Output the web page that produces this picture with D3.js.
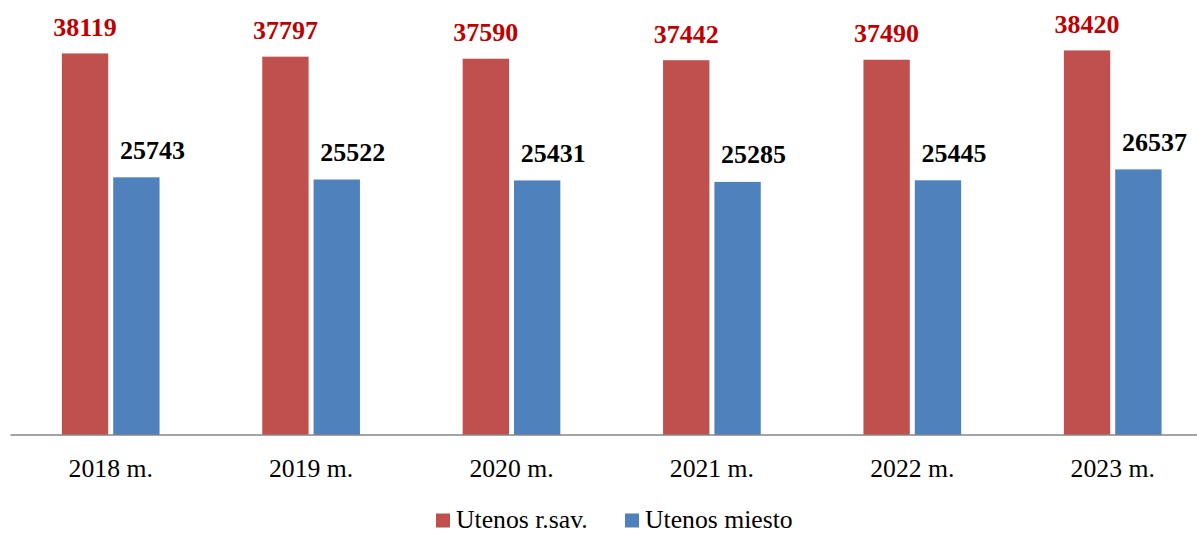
<!DOCTYPE html>
<html><head><meta charset="utf-8">
<script src="https://cdn.jsdelivr.net/npm/d3@7"></script>
<style>body{margin:0;background:#fff}svg{display:block}</style>
</head><body>
<svg id="c" width="1197" height="534"></svg>
<script>
const categories = ["2018 m.","2019 m.","2020 m.","2021 m.","2022 m.","2023 m."];
const seriesNames = ["Utenos r.sav.","Utenos miesto"];
const rajonas = [38119,37797,37590,37442,37490,38420];
const miestas = [25743,25522,25431,25285,25445,26537];
const colors = ["#C0504D","#4F81BD"];
const labelColors = ["#C00000","#000000"];
const seriesValues = [rajonas, miestas];

const svg = d3.select("#c");
const font = "'Liberation Serif','Times New Roman',serif";
const x0 = d3.scaleBand().domain(categories).range([10.5, 1212.9]).padding(0);
const x1 = d3.scaleBand().domain(seriesNames).range([0, x0.bandwidth()]).paddingInner(0.0975).paddingOuter(1.0);
const y = d3.scaleLinear().domain([0, 40000]).range([435, 34.6]);

const groups = svg.selectAll("g.cat").data(categories).join("g")
  .attr("transform", d => `translate(${x0(d)},0)`);

seriesNames.forEach((s, si) => {
  groups.append("rect")
    .attr("x", x1(s))
    .attr("width", x1.bandwidth())
    .attr("y", (d,i) => y(seriesValues[si][i]))
    .attr("height", (d,i) => y(0) - y(seriesValues[si][i]))
    .attr("fill", colors[si]);
  groups.append("text")
    .attr("x", x1(s) + x1.bandwidth()/2 + (si===1 ? 16 : 0))
    .attr("y", (d,i) => y(seriesValues[si][i]) - (si===0 ? 17.5 : 18.5))
    .attr("text-anchor", "middle")
    .attr("font-family", font).attr("font-weight", "bold").attr("font-size", 26)
    .attr("fill", labelColors[si])
    .text((d,i) => seriesValues[si][i]);
});

// x axis
const axis = d3.axisBottom(x0).tickSize(0).tickPadding(0);
const ax = svg.append("g").attr("transform", `translate(0,${y(0)})`).call(axis);
ax.select(".domain").attr("stroke", "#868686").attr("stroke-width", 1.3).attr("d", "M10.5,0H1197");
ax.selectAll("text").attr("font-family", font).attr("font-size", 25.7).attr("fill", "#000")
  .attr("dy", null).attr("y", 42);

// legend
const legendX = [436, 625];
const leg = svg.append("g");
seriesNames.forEach((s, i) => {
  leg.append("rect").attr("x", legendX[i]).attr("y", 513.5).attr("width", 14).attr("height", 14).attr("fill", colors[i]);
  leg.append("text").attr("x", legendX[i] + 20).attr("y", 528)
    .attr("font-family", font).attr("font-size", 25.7).attr("fill", "#000").text(s);
});
</script>
</body></html>
